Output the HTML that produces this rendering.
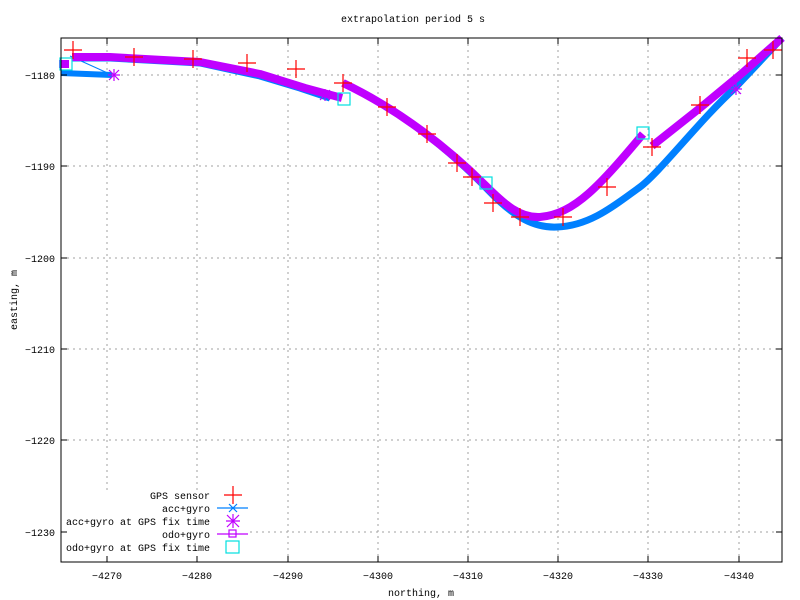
<!DOCTYPE html>
<html><head><style>body{margin:0;background:#fff}svg{display:block}text{font-family:"Liberation Mono","DejaVu Sans Mono",monospace;font-size:10px;fill:#000}</style></head><body>
<svg width="800" height="600" xmlns="http://www.w3.org/2000/svg">
<rect width="800" height="600" fill="#fff"/>
<g stroke="#a0a0a0" stroke-dasharray="2,4" stroke-width="1">
<line x1="107" y1="38" x2="107" y2="490"/><line x1="197" y1="38" x2="197" y2="490"/>
<line x1="288" y1="38" x2="288" y2="562"/><line x1="378" y1="38" x2="378" y2="562"/>
<line x1="468" y1="38" x2="468" y2="562"/><line x1="558" y1="38" x2="558" y2="562"/>
<line x1="648" y1="38" x2="648" y2="562"/><line x1="739" y1="38" x2="739" y2="562"/>
<line x1="61" y1="75" x2="782" y2="75"/><line x1="61" y1="166" x2="782" y2="166"/>
<line x1="61" y1="258" x2="782" y2="258"/><line x1="61" y1="349" x2="782" y2="349"/>
<line x1="61" y1="440" x2="782" y2="440"/><line x1="250" y1="532" x2="782" y2="532"/>
</g>
<g stroke="#0080ff" fill="none" stroke-linejoin="round">
<polyline stroke-width="1" points="70,56 112,75"/>
<polyline stroke-width="6" points="61,73 112,75"/>
<polyline stroke-width="7" points="72,58 110,58 200,63 260,76 300,88 330,98"/>
<path stroke-width="7" d="M343,83 C400,110 450,150 490,192 C515,218 535,228 557,227 C590,226 615,205 640,187 C660,172 700,120 735,88 L782,38"/>
</g>
<g stroke="#c000ff" fill="none" stroke-linejoin="round" stroke-width="8">
<polyline points="72,57 110,57 200,62 260,74 305,88 342,98"/>
<path d="M343,83 C400,110 450,150 485,185 C505,205 520,218 540,217 C575,214 600,185 643,134"/>
<polyline points="652,146 700,108 740,75 782,38"/>
</g>
<rect x="59" y="60" width="10" height="8" fill="#c000ff"/>
<g stroke="#c000ff" stroke-width="1.2">
<path d="M108,75h12M114,69v12M109,70l10,10M119,70l-10,10"/>
<path d="M319,95h12M325,89v12M320,90l10,10M330,90l-10,10"/>
<path d="M730,89h12M736,83v12M731,84l10,10M741,84l-10,10"/>
</g>
<g stroke="#00e0e0" stroke-width="1.2" fill="none">
<rect x="60" y="58" width="12" height="12"/><rect x="338" y="93" width="12" height="12"/>
<rect x="480" y="177" width="12" height="12"/><rect x="637" y="127" width="12" height="12"/>
</g>
<g stroke="#ff0000" stroke-width="1.2" fill="none">
<path d="M64,50h18M73,41v18 M125,57h18M134,48v18 M184,59h18M193,50v18 M238,63h18M247,54v18 M287,69h18M296,60v18 M334,83h18M343,74v18 M378,107h18M387,98v18 M418,134h18M427,125v18 M448,163h18M457,154v18 M463,177h18M472,168v18 M484,203h18M493,194v18 M511,217h18M520,208v18 M554,217h18M563,208v18 M598,187h18M607,178v18 M643,147h18M652,138v18 M691,105h18M700,96v18 M738,58h18M747,49v18 M764,50h18M773,41v18"/>
</g>
<rect x="61" y="38" width="721" height="524" fill="none" stroke="#000"/>
<g stroke="#000">
<path d="M107,562v-6M197,562v-6M288,562v-6M378,562v-6M468,562v-6M558,562v-6M648,562v-6M739,562v-6M107,38v6M197,38v6M288,38v6M378,38v6M468,38v6M558,38v6M648,38v6M739,38v6"/>
<path d="M61,75h6M61,166h6M61,258h6M61,349h6M61,440h6M61,532h6M782,75h-6M782,166h-6M782,258h-6M782,349h-6M782,440h-6M782,532h-6"/>
</g>
<g text-anchor="middle">
<text x="107" y="579">−4270</text><text x="197" y="579">−4280</text><text x="288" y="579">−4290</text><text x="378" y="579">−4300</text><text x="468" y="579">−4310</text><text x="558" y="579">−4320</text><text x="648" y="579">−4330</text><text x="739" y="579">−4340</text>
<text x="421" y="596">northing, m</text>
<text x="413" y="22">extrapolation period 5 s</text>
</g>
<g text-anchor="end">
<text x="55" y="79">−1180</text><text x="55" y="170">−1190</text><text x="55" y="262">−1200</text><text x="55" y="353">−1210</text><text x="55" y="444">−1220</text><text x="55" y="536">−1230</text>
<text x="210" y="499">GPS sensor</text><text x="210" y="512">acc+gyro</text><text x="210" y="525">acc+gyro at GPS fix time</text><text x="210" y="538">odo+gyro</text><text x="210" y="551">odo+gyro at GPS fix time</text>
</g>
<text transform="translate(17,300) rotate(-90)" text-anchor="middle">easting, m</text>
<path d="M224,495h18M233,486v18" stroke="#f00" stroke-width="1.2"/>
<path d="M217,508h31M229,504l8,8M237,504l-8,8" stroke="#0080ff" stroke-width="1.2"/>
<path d="M226,521h14M233,514v14M227,515l12,12M239,515l-12,12" stroke="#c000ff" stroke-width="1.2"/>
<path d="M217,534h31" stroke="#c000ff" stroke-width="1.2"/><rect x="229" y="530" width="7" height="7" fill="none" stroke="#c000ff" stroke-width="1.2"/>
<rect x="226" y="541" width="13" height="12" fill="none" stroke="#00e0e0" stroke-width="1.2"/>
</svg>
</body></html>
